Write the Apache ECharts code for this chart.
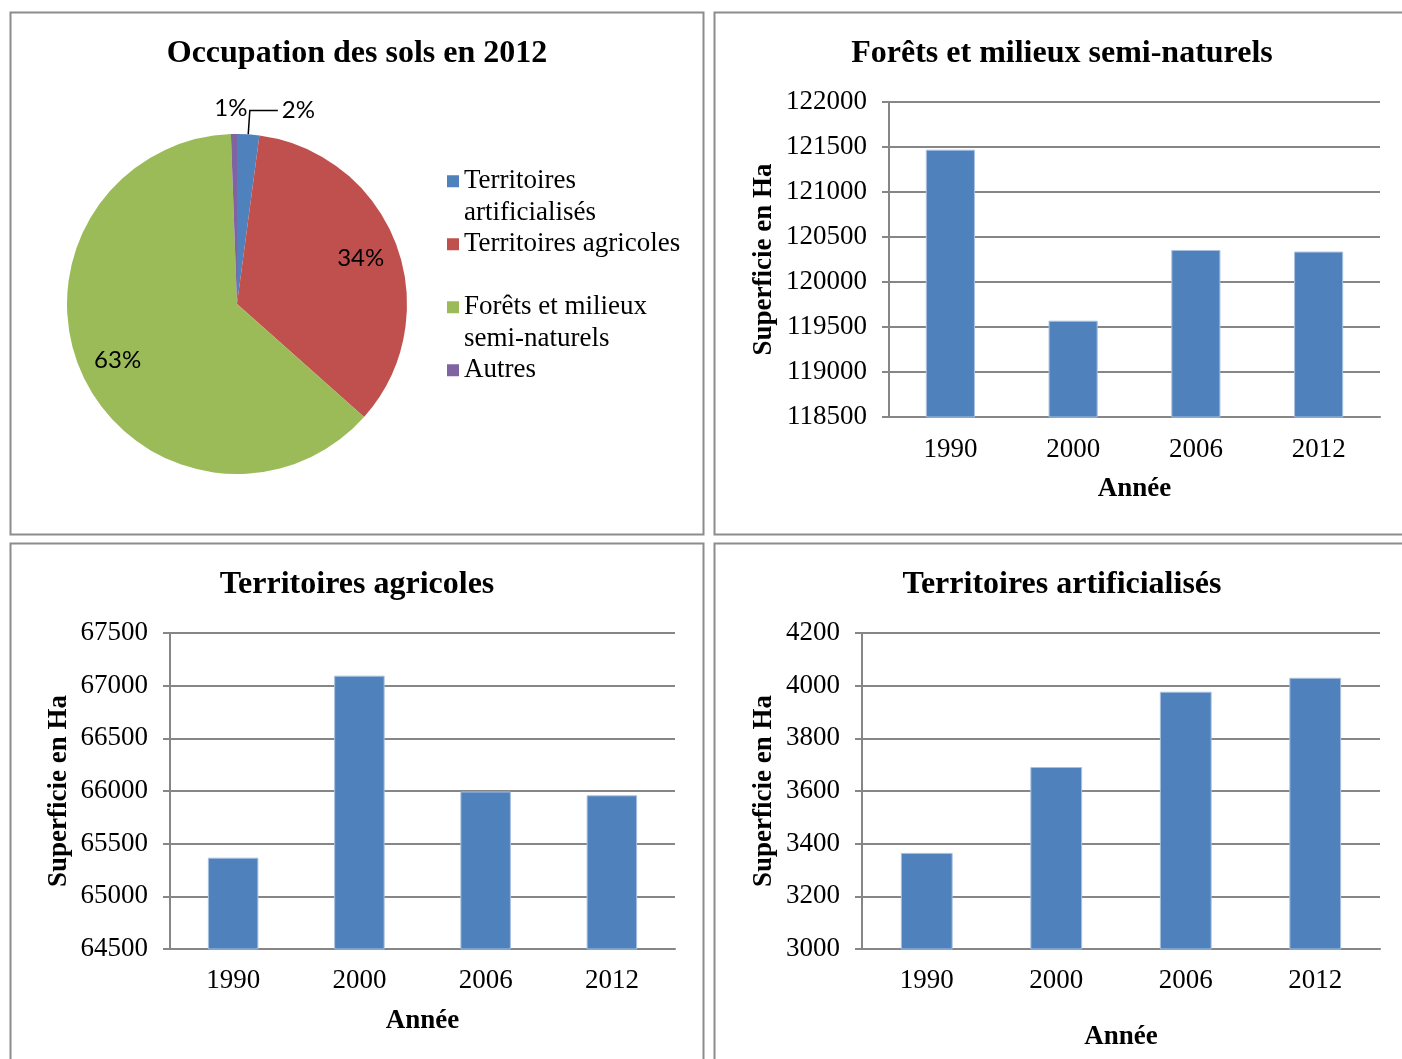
<!DOCTYPE html>
<html>
<head>
<meta charset="utf-8">
<script src="https://cdn.jsdelivr.net/npm/echarts@6/dist/echarts.min.js"></script>
<style>
  html, body { margin: 0; padding: 0; background: #fff; }
  #chart { width: 1402px; height: 1059px; }
</style>
</head>
<body>
<div id="chart"></div>
<script>
// données
const years = ['1990', '2000', '2006', '2012'];
const foretsValues = [121470, 119570, 120356, 120338];
const agricolesValues = [65367, 67095, 65995, 65959];
const artificialisesValues = [3365, 3691, 3977, 4030];

const pieNames = ['Territoires artificialisés', 'Territoires agricoles', 'Forêts et milieux semi-naturels', 'Autres'];
const pieValues = [4030, 65959, 120338, 1100];
// libellés de légende (retours à la ligne comme dans Excel)
const legendLabels = [' \nTerritoires\nartificialisés', 'Territoires agricoles', ' \nForêts et milieux\nsemi-naturels', 'Autres'];

const pieColors = ['#4F81BD', '#C0504D', '#9BBB59', '#8064A2'];
const barColor = '#4F81BD';
const gridGray = '#868686';
const serif = '"Liberation Serif", "Times New Roman", serif';

const chart = echarts.init(document.getElementById('chart'));

const panel = (x, y, w, h) => ({
  type: 'rect',
  shape: { x, y, width: w, height: h },
  style: { fill: 'none', stroke: '#8c8c8c', lineWidth: 2 },
  silent: true
});

const makeTitle = (text, x, y) => ({
  text,
  left: x,
  top: y,
  textAlign: 'center',
  textStyle: { fontFamily: serif, fontSize: 32, fontWeight: 'bold', color: '#000' }
});

const makeXAxis = (gridIndex, nameGap, labelMargin) => ({
  type: 'category',
  gridIndex,
  data: years,
  name: 'Année',
  nameLocation: 'middle',
  nameGap,
  nameTextStyle: { fontFamily: serif, fontSize: 27, fontWeight: 'bold', color: '#000' },
  axisLine: { lineStyle: { color: gridGray, width: 2 } },
  axisTick: { show: false },
  axisLabel: { fontFamily: serif, fontSize: 27, color: '#000', margin: labelMargin }
});

const makeYAxis = (gridIndex, min, max, interval, nameGap) => ({
  type: 'value',
  gridIndex,
  min,
  max,
  interval,
  name: 'Superficie en Ha',
  nameLocation: 'middle',
  nameGap,
  nameTextStyle: { fontFamily: serif, fontSize: 27, fontWeight: 'bold', color: '#000' },
  axisLine: { show: true, lineStyle: { color: gridGray, width: 2 } },
  axisTick: { show: true, length: 7, lineStyle: { color: gridGray, width: 2 } },
  splitLine: { show: true, lineStyle: { color: gridGray, width: 2 } },
  axisLabel: {
    fontFamily: serif, fontSize: 27, color: '#000', margin: 22,
    formatter: (v) => String(v)
  }
});

const makeBar = (name, values, axisIndex) => ({
  name,
  type: 'bar',
  xAxisIndex: axisIndex,
  yAxisIndex: axisIndex,
  data: values,
  barWidth: '40%',
  itemStyle: { color: barColor, borderColor: '#a9c0de', borderWidth: 1 },
  silent: true
});

const pieData = pieNames.map((name, i) => ({
  name,
  value: pieValues[i],
  itemStyle: { color: pieColors[i] },
  label: i === 3 ? { show: true, distanceToLabelLine: -14 } : { show: i === 0 },
  labelLine: i === 0
    ? { show: true, length: 24, length2: 28, lineStyle: { color: '#000', width: 1.5 } }
    : { show: false, length: 26, length2: 0 }
}));

const pieLabelData = pieNames.map((name, i) => ({
  name,
  value: pieValues[i],
  label: { show: i === 1 || i === 2 }
}));

const option = {
  animation: false,
  backgroundColor: '#fff',
  graphic: [
    panel(10.5, 12.5, 693, 522),
    panel(714.5, 12.5, 700, 522),
    panel(10.5, 543.5, 693, 530),
    panel(714.5, 543.5, 700, 530)
  ],
  title: [
    makeTitle('Occupation des sols en 2012', 352, 33),
    makeTitle('Forêts et milieux semi-naturels', 1057, 33),
    makeTitle('Territoires agricoles', 352, 564),
    makeTitle('Territoires artificialisés', 1057, 564)
  ],
  legend: {
    data: pieNames,
    orient: 'vertical',
    left: 447,
    top: 134,
    padding: 0,
    itemGap: 0,
    itemWidth: 12,
    itemHeight: 12,
    icon: 'rect',
    formatter: (name) => legendLabels[pieNames.indexOf(name)],
    textStyle: { fontFamily: serif, fontSize: 27, lineHeight: 31.5, color: '#000' }
  },
  grid: [
    { left: 889, top: 102, width: 491, height: 315 },
    { left: 170, top: 633, width: 505, height: 316 },
    { left: 862, top: 633, width: 518, height: 316 }
  ],
  xAxis: [
    makeXAxis(0, 59, 19),
    makeXAxis(1, 59, 18),
    makeXAxis(2, 75, 18)
  ],
  yAxis: [
    makeYAxis(0, 118500, 122000, 500, 111),
    makeYAxis(1, 64500, 67500, 500, 97),
    makeYAxis(2, 3000, 4200, 200, 84)
  ],
  series: [
    {
      name: 'Occupation des sols en 2012',
      type: 'pie',
      center: [237, 304],
      radius: [0, 170],
      startAngle: 90,
      clockwise: true,
      avoidLabelOverlap: false,
      percentPrecision: 0,
      silent: true,
      label: {
        position: 'outside',
        formatter: '{d}%',
        fontFamily: 'Lato, "Open Sans", sans-serif',
        fontSize: 24,
        color: '#000',
        distanceToLabelLine: 4
      },
      emphasis: { disabled: true },
      data: pieData
    },
    {
      name: 'labels',
      type: 'pie',
      center: [237, 304],
      radius: [88, 170],
      startAngle: 90,
      clockwise: true,
      percentPrecision: 0,
      silent: true,
      itemStyle: { color: 'rgba(0,0,0,0)' },
      label: {
        position: 'inside',
        formatter: '{d}%',
        fontFamily: 'Lato, "Open Sans", sans-serif',
        fontSize: 24,
        color: '#000'
      },
      labelLine: { show: false },
      emphasis: { disabled: true },
      data: pieLabelData
    },
    makeBar('Superficie forêts', foretsValues, 0),
    makeBar('Superficie agricole', agricolesValues, 1),
    makeBar('Superficie artificialisée', artificialisesValues, 2)
  ]
};

chart.setOption(option);
</script>
</body>
</html>
